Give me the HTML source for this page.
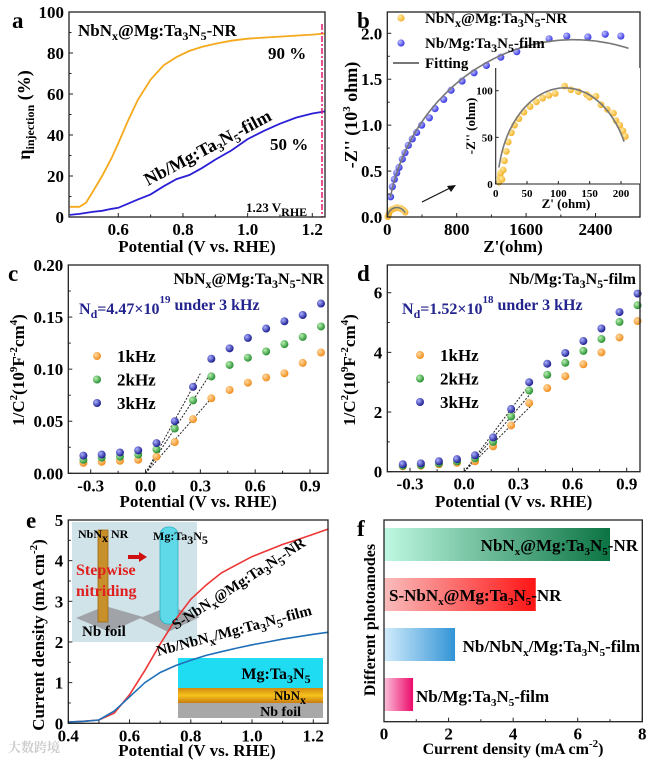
<!DOCTYPE html>
<html><head><meta charset="utf-8"><style>
html,body{margin:0;padding:0;background:#fff;}
svg{display:block;font-family:"Liberation Serif","Noto Serif CJK SC",serif;font-weight:bold;}
</style></head><body>
<svg id="fig" width="655" height="769" viewBox="0 0 655 769" xmlns="http://www.w3.org/2000/svg">
<defs>
<linearGradient id="g1" x1="0" x2="1"><stop offset="0" stop-color="#bff8e2"/><stop offset="1" stop-color="#0b7443"/></linearGradient>
<linearGradient id="g2" x1="0" x2="1"><stop offset="0" stop-color="#f9bcbc"/><stop offset="1" stop-color="#ff1414"/></linearGradient>
<linearGradient id="g3" x1="0" x2="1"><stop offset="0" stop-color="#d2ecfc"/><stop offset="1" stop-color="#3394d6"/></linearGradient>
<linearGradient id="g4" x1="0" x2="1"><stop offset="0" stop-color="#fbc0da"/><stop offset="1" stop-color="#ec0a6a"/></linearGradient>
<linearGradient id="gnb" x1="0" x2="0" y1="0" y2="1"><stop offset="0" stop-color="#d08a10"/><stop offset="0.5" stop-color="#f6c21c"/><stop offset="1" stop-color="#c87c10"/></linearGradient>
<radialGradient id="dotO" cx="0.35" cy="0.35" r="0.7"><stop offset="0" stop-color="#ffd9a0"/><stop offset="1" stop-color="#f08a18"/></radialGradient>
<radialGradient id="dotG" cx="0.35" cy="0.35" r="0.7"><stop offset="0" stop-color="#b8f0b0"/><stop offset="1" stop-color="#1f8a2a"/></radialGradient>
<radialGradient id="dotB" cx="0.35" cy="0.35" r="0.7"><stop offset="0" stop-color="#aab0ff"/><stop offset="1" stop-color="#14148a"/></radialGradient>
<radialGradient id="dotY" cx="0.35" cy="0.35" r="0.7"><stop offset="0" stop-color="#ffe9a0"/><stop offset="1" stop-color="#f2b024"/></radialGradient>
<radialGradient id="dotP" cx="0.35" cy="0.35" r="0.7"><stop offset="0" stop-color="#c0c0ff"/><stop offset="1" stop-color="#3030e0"/></radialGradient>
</defs>
</svg>
<script>
// ===== Panel a data =====
const aX = [0.45,0.48,0.5,0.52,0.55,0.58,0.6,0.63,0.66,0.7,0.74,0.78,0.82,0.86,0.9,0.95,1.0,1.05,1.1,1.15,1.2,1.24];
const aNR = [5,5,7,12,20,29,36,47,57,67,74,78,81,83,84.5,86,87,87.5,88,88.5,89,89.5];
const aFilm = [1,1.5,2,2.5,3,4,4.5,6.5,8.5,11,15,18.5,20.5,24,28,32.5,38,42,45.5,48.5,50.5,51.5];
const aXTicks = [0.6,0.8,1.0,1.2];
const aYTicks = [0,20,40,60,80,100];
// ===== Panel b data =====
const bFilmX = [38,58,81,108,135,173,204,242,288,338,396,485,550,650,735,862,1000,1142,1308,1492,1865,2069,2312,2512,2692];
const bFilmY = [0.22,0.33,0.41,0.48,0.54,0.63,0.70,0.78,0.85,0.92,1.0,1.08,1.18,1.28,1.38,1.48,1.57,1.65,1.74,1.80,1.94,1.97,1.96,1.99,1.97];
const bNRX = [5,7,8,10,12,14,17,20,25,30,37,45,55,65,75,85,95,110,120,132,145,150,160,168,178,188,192,198,203,207];
const bNRY = [2,8,12,5,15,25,35,45,55,63,70,77,83,88,92,95,97,105,101,99,96,93,94,85,80,76,68,63,57,51];
const bFitFilm = [2150,-232.5,2162.5,2780]; // circle cx, cy, r, end x (ohm)
const bFitNR = [110,-4.08,107.1,205];
const bXTicks = [0,800,1600,2400];
const bYTicks = [0,0.5,1.0,1.5,2.0];
const bInXTicks = [0,50,100,150,200];
const bInYTicks = [0,50,100];
// ===== Panel c/d data =====
const cvX = [-0.34,-0.24,-0.14,-0.04,0.06,0.16,0.26,0.36,0.46,0.56,0.66,0.76,0.86,0.96];
const c1k = [0.010,0.011,0.012,0.013,0.016,0.030,0.052,0.072,0.080,0.087,0.092,0.096,0.106,0.116];
const c2k = [0.013,0.015,0.016,0.018,0.023,0.043,0.070,0.093,0.104,0.111,0.117,0.124,0.131,0.141];
const c3k = [0.017,0.018,0.020,0.022,0.029,0.050,0.083,0.110,0.120,0.130,0.139,0.146,0.152,0.163];
const d1k = [0.18,0.20,0.25,0.30,0.35,0.85,1.55,2.3,2.8,3.2,3.6,4.0,4.5,5.05];
const d2k = [0.20,0.22,0.28,0.35,0.45,1.0,1.85,2.72,3.25,3.65,4.05,4.45,5.02,5.58];
const d3k = [0.25,0.28,0.35,0.42,0.55,1.15,2.1,3.0,3.62,3.98,4.38,4.8,5.35,5.97];
const cvXTicks = [-0.3,0.0,0.3,0.6,0.9];
const cYTicks = [0,0.05,0.10,0.15,0.20];
const dYTicks = [0,2,4,6];
// ===== Panel e data =====
const eX = [0.4,0.45,0.5,0.55,0.6,0.65,0.7,0.75,0.8,0.85,0.9,0.95,1.0,1.05,1.1,1.15,1.2,1.25];
const eNR = [0.03,0.05,0.08,0.25,0.7,1.3,1.95,2.55,3.05,3.4,3.7,3.9,4.1,4.25,4.4,4.52,4.65,4.78];
const eFilm = [0.03,0.05,0.08,0.3,0.65,1.0,1.25,1.42,1.55,1.67,1.76,1.85,1.93,2.0,2.07,2.13,2.19,2.24];
const eXTicks = [0.4,0.6,0.8,1.0,1.2];
const eYTicks = [0,1,2,3,4,5];
// ===== Panel f data =====
const fCats = ['NbN<tspan font-size="11" dy="4">x</tspan><tspan dy="-4">@Mg:Ta</tspan><tspan font-size="11" dy="4">3</tspan><tspan dy="-4">N</tspan><tspan font-size="11" dy="4">5</tspan><tspan dy="-4">-NR</tspan>',
 'S-NbN<tspan font-size="11" dy="4">x</tspan><tspan dy="-4">@Mg:Ta</tspan><tspan font-size="11" dy="4">3</tspan><tspan dy="-4">N</tspan><tspan font-size="11" dy="4">5</tspan><tspan dy="-4">-NR</tspan>',
 'Nb/NbN<tspan font-size="11" dy="4">x</tspan><tspan dy="-4">/Mg:Ta</tspan><tspan font-size="11" dy="4">3</tspan><tspan dy="-4">N</tspan><tspan font-size="11" dy="4">5</tspan><tspan dy="-4">-film</tspan>',
 'Nb/Mg:Ta<tspan font-size="11" dy="4">3</tspan><tspan dy="-4">N</tspan><tspan font-size="11" dy="4">5</tspan><tspan dy="-4">-film</tspan>'];
const fVals = [7.0,4.7,2.2,0.9];
const fXTicks = [0,2,4,6,8];

const svg = document.getElementById('fig');
const NS = 'http://www.w3.org/2000/svg';
function el(tag, attrs, name, parent) {
  const e = document.createElementNS(NS, tag);
  for (const k in attrs) e.setAttribute(k, attrs[k]);
  
  
  (parent || svg).appendChild(e);
  return e;
}
function txt(x, y, html, size, name, opts) {
  opts = opts || {};
  const a = {x: x, y: y, 'font-size': size, fill: opts.fill || '#000'};
  if (opts.anchor) a['text-anchor'] = opts.anchor;
  if (opts.rot !== undefined) a.transform = 'rotate(' + opts.rot + ' ' + x + ' ' + y + ')';
  const t = el('text', a, name);
  t.innerHTML = html;
  return t;
}
function lin(d0, d1, p0, p1) { return v => p0 + (v - d0) / (d1 - d0) * (p1 - p0); }
function frame(L, T, R, B, name) {
  el('rect', {x: L, y: T, width: R - L, height: B - T, fill: 'none', stroke: '#222', 'stroke-width': 1.3}, name);
}
function xTicks(ticks, sx, B, fmt, name, size, minor) {
  ticks.forEach((v, i) => {
    el('line', {x1: sx(v), x2: sx(v), y1: B, y2: B - 4, stroke: '#222', 'stroke-width': 1}, name + '-tick');
    txt(sx(v), B + 18, fmt(v), size || 17, name + '-label', {anchor: 'middle'});
    if (minor && i < ticks.length - 1) {
      const m = (v + ticks[i + 1]) / 2;
      el('line', {x1: sx(m), x2: sx(m), y1: B, y2: B - 2.5, stroke: '#222', 'stroke-width': 1}, name + '-minor-tick');
    }
  });
}
function yTicks(ticks, sy, L, fmt, name, size) {
  ticks.forEach((v, i) => {
    el('line', {x1: L, x2: L + 4, y1: sy(v), y2: sy(v), stroke: '#222', 'stroke-width': 1}, name + '-tick');
    txt(L - 5, sy(v) + 6, fmt(v), size || 17, name + '-label', {anchor: 'end'});
    if (i < ticks.length - 1) {
      const m = (v + ticks[i + 1]) / 2;
      el('line', {x1: L, x2: L + 2.5, y1: sy(m), y2: sy(m), stroke: '#222', 'stroke-width': 1}, name + '-minor-tick');
    }
  });
}
function path(xs, ys, sx, sy, color, w, name) {
  const d = xs.map((x, i) => (i ? 'L' : 'M') + sx(x).toFixed(1) + ',' + sy(ys[i]).toFixed(1)).join('');
  el('path', {d: d, fill: 'none', stroke: color, 'stroke-width': w}, name);
}
function sub(s) { return '<tspan font-size="12" dy="4">' + s + '</tspan><tspan dy="-4">'; }
const TAN = 'Ta' + sub('3') + 'N' + sub('5');

// ===================== Panel a =====================
(function(){
  const L=69,T=12,R=325,B=217;
  const sx = lin(0.6,1.2,118.3,312.3), sy = lin(0,100,B,T);
  txt(12,28,'a',23,'panel-label-a');
  path(aX,aNR,sx,sy,'#f5a91c',1.8,'curve-a-nr');
  path(aX,aFilm,sx,sy,'#2a1fd6',1.8,'curve-a-film');
  el('line',{x1:sx(1.23),x2:sx(1.23),y1:T+12,y2:B,stroke:'#e8237a','stroke-width':1.6,'stroke-dasharray':'6,2,2,2'},'vline-1-23v');
  frame(L,T,R,B,'frame-a');
  xTicks(aXTicks,sx,B,v=>v.toFixed(1),'x-tick-a',17,true);
  yTicks(aYTicks,sy,L,v=>v,'y-tick-a',17);
  txt(197,252,'Potential (V vs. RHE)',17,'x-axis-title-a',{anchor:'middle'});
  txt(30,115,'η<tspan font-size="12" dy="4">injection</tspan><tspan dy="-4"> (%)</tspan>',18,'y-axis-title-a',{anchor:'middle',rot:-90});
  txt(78,36,'NbN'+sub('x')+'@Mg:'+TAN+'-NR</tspan>',17,'label-a-nr');
  txt(268,59,'90 %',17,'label-90pct');
  txt(270,150,'50 %',17,'label-50pct');
  txt(148,186,'Nb/Mg:'+TAN+'-film</tspan>',18,'label-a-film',{rot:-28});
  txt(246,212,'1.23 V'+sub('RHE')+'</tspan>',13,'label-1-23v');
})();

// ===================== Panel b =====================
(function(){
  const L=387.3,T=12,R=640,B=217;
  const sx = lin(0,800,387.3,456.7), sy = lin(0,2.0,B,33.3);
  txt(357,28,'b',23,'panel-label-b');
  function arc(p, sxF, syF, scale, name){
    const xs=[], ys=[];
    for(let x=0;x<=p[3];x+=p[3]/80){ const dx=x-p[0]; const y=p[1]+Math.sqrt(Math.max(0,p[2]*p[2]-dx*dx)); if(y>=0){xs.push(x);ys.push(y/scale);} }
    path(xs,ys,sxF,syF,'#777',1.6,name);
  }
  bFilmX.forEach((x,i)=>{ el('circle',{cx:sx(x),cy:sy(bFilmY[i]),r:3.6,fill:'url(#dotP)'},'point-b-film'); });
  bNRX.forEach((x,i)=>{ el('circle',{cx:sx(x),cy:sy(bNRY[i]/1000),r:3.2,fill:'url(#dotY)'},'point-b-nr'); });
  arc(bFitFilm,sx,sy,1000,'fit-b-film');
  arc(bFitNR,sx,sy,1000,'fit-b-nr');
  frame(L,T,R,B,'frame-b');
  xTicks(bXTicks,sx,B,v=>v,'x-tick-b',17,true);
  yTicks(bYTicks,sy,L,v=>v.toFixed(1),'y-tick-b',17);
  txt(513,252,"Z'(ohm)",17,'x-axis-title-b',{anchor:'middle'});
  txt(357,115,"-Z'' (10<tspan font-size='11' dy='-7'>3</tspan><tspan dy='7'> ohm)</tspan>",18,'y-axis-title-b',{anchor:'middle',rot:-90});
  el('circle',{cx:401,cy:18,r:3.6,fill:'url(#dotY)'},'legend-marker-nr');
  txt(425,23,'NbN'+sub('x')+'@Mg:'+TAN+'-NR</tspan>',15,'legend-entry-nr');
  el('circle',{cx:401,cy:43,r:3.6,fill:'url(#dotP)'},'legend-marker-film');
  txt(425,48,'Nb/Mg:'+TAN+'-film</tspan>',15,'legend-entry-film');
  el('line',{x1:393,x2:419,y1:63,y2:63,stroke:'#777','stroke-width':2},'legend-marker-fit');
  txt(425,68,'Fitting',15,'legend-entry-fit');
  el('line',{x1:422,y1:202,x2:452,y2:187,stroke:'#111','stroke-width':1.2},'zoom-arrow');
  el('path',{d:'M456,185 L447,186 L451,192 Z',fill:'#111'},'zoom-arrowhead');
  const iL=495.7,iT=68,iR=640,iB=184;
  const ix = lin(0,200,495.7,621), iy = lin(0,100,iB,90.7);
  el('rect',{x:iL,y:iT,width:iR-iL,height:iB-iT,fill:'#fff',stroke:'none'},'inset-bg');
  bNRX.forEach((x,i)=>{ el('circle',{cx:ix(x),cy:iy(bNRY[i]),r:3.4,fill:'url(#dotY)'},'point-inset-nr'); });
  arc(bFitNR,ix,iy,1,'fit-inset-nr');
  el('path',{d:'M'+iL+','+iT+' L'+iL+','+iB+' L'+iR+','+iB,fill:'none',stroke:'#222','stroke-width':1.1},'inset-axes');
  bInXTicks.forEach(v=>{ el('line',{x1:ix(v),x2:ix(v),y1:iB,y2:iB-3,stroke:'#222'},'inset-x-tick'); txt(ix(v),iB+13,v,11,'inset-x-tick-label',{anchor:'middle'}); });
  bInYTicks.forEach(v=>{ el('line',{x1:iL,x2:iL+3,y1:iy(v),y2:iy(v),stroke:'#222'},'inset-y-tick'); txt(iL-3,iy(v)+4,v,11,'inset-y-tick-label',{anchor:'end'}); });
  txt(566,208,"Z' (ohm)",13,'inset-x-title',{anchor:'middle'});
  txt(475,126,"-Z'' (ohm)",13,'inset-y-title',{anchor:'middle',rot:-90});
})();

// ===================== Panels c & d =====================
function cvPanel(o){
  const sx = lin(-0.3,0.9,o.x03,o.x09), sy = lin(o.y0v,o.y1v,o.B,o.y1p);
  txt(o.lx,o.ly,o.label,23,'panel-label-'+o.id);
  const series=[[o.s1,'url(#dotO)','1k'],[o.s2,'url(#dotG)','2k'],[o.s3,'url(#dotB)','3k']];
  series.forEach((s,k)=>{
    const ys=s[0]; const x0=0.0; const slope=ys[6]/(cvX[6]-x0);
    const xe=o.fitEnd[k];
    el('line',{x1:sx(x0),y1:sy(0),x2:sx(xe),y2:sy(slope*(xe-x0)),stroke:'#222','stroke-width':1,'stroke-dasharray':'2,1.5'},'fit-line-'+o.id+'-'+s[2]);
  });
  series.forEach(s=>{ cvX.forEach((x,i)=>{ el('circle',{cx:sx(x),cy:sy(s[0][i]),r:4,fill:s[1]},'point-'+o.id+'-'+s[2]); }); });
  frame(o.L,o.T,o.R,o.B,'frame-'+o.id);
  xTicks(cvXTicks,sx,o.B,v=>v.toFixed(1),'x-tick-'+o.id,17,true);
  yTicks(o.yt,sy,o.L,o.fmt,'y-tick-'+o.id,17);
  txt((o.L+o.R)/2,507,'Potential (V vs. RHE)',17,'x-axis-title-'+o.id,{anchor:'middle'});
  txt(o.ytx,370,'1/C<tspan font-size="11" dy="-7">2</tspan><tspan dy="7">(10</tspan><tspan font-size="11" dy="-7">9</tspan><tspan dy="7">F</tspan><tspan font-size="11" dy="-7">-2</tspan><tspan dy="7">cm</tspan><tspan font-size="11" dy="-7">4</tspan><tspan dy="7">)</tspan>',17,'y-axis-title-'+o.id,{anchor:'middle',rot:-90});
  [['url(#dotO)','1kHz'],['url(#dotG)','2kHz'],['url(#dotB)','3kHz']].forEach((l,i)=>{
    el('circle',{cx:o.legX,cy:o.legY+i*23.5,r:4,fill:l[0]},'legend-marker-'+o.id+'-'+l[1]);
    txt(o.legX+20,o.legY+i*23.5+6,l[1],17,'legend-entry-'+o.id+'-'+l[1]);
  });
  txt(o.R-4,o.T+19,o.title,16,'sample-label-'+o.id,{anchor:'end'});
  txt(o.ndX,o.T+49,o.nd,16,'nd-label-'+o.id,{fill:'#24248f'});
}
cvPanel({id:'c',label:'c',lx:8,ly:281,L:68.3,T:265,R:328,B:473.3,x03:90.7,x09:310,y0v:0,y1v:0.2,y1p:265,
  s1:c1k,s2:c2k,s3:c3k,fitEnd:[0.36,0.36,0.3],yt:cYTicks,fmt:v=>v.toFixed(2),ytx:24,legX:97,legY:356,
  title:'NbN'+sub('x')+'@Mg:'+TAN+'-NR</tspan>',ndX:79,nd:'N'+sub('d')+'=4.47×10<tspan font-size="11" dy="-11">19</tspan><tspan dy="7"> under 3 kHz</tspan></tspan>'});
cvPanel({id:'d',label:'d',lx:357,ly:281,L:387.3,T:265,R:640,B:471.7,x03:410,x09:626.7,y0v:0,y1v:6,y1p:292.7,
  s1:d1k,s2:d2k,s3:d3k,fitEnd:[0.37,0.37,0.35],yt:dYTicks,fmt:v=>v,ytx:355,legX:420,legY:355,
  title:'Nb/Mg:'+TAN+'-film</tspan>',ndX:402,nd:'N'+sub('d')+'=1.52×10<tspan font-size="11" dy="-11">18</tspan><tspan dy="7"> under 3 kHz</tspan></tspan>'});

// ===================== Panel e =====================
(function(){
  const L=68.3,T=520,R=328,B=723.3;
  const sx = lin(0.4,1.2,68.3,313.3), sy = lin(0,5,B,T);
  txt(26,528,'e',23,'panel-label-e');
  el('rect',{x:72,y:522,width:125,height:120,fill:'#cfe3e8'},'inset-nitriding-bg');
  el('path',{d:'M76,618 L105,606 L143,617 L110,632 Z',fill:'#a0a4a8'},'nb-foil-left');
  el('rect',{x:98,y:530,width:10,height:92,fill:'#c8902a',stroke:'#9a6a18','stroke-width':0.8},'nbnx-rod');
  el('path',{d:'M140,618 L170,606 L200,617 L168,632 Z',fill:'#a0a4a8'},'nb-foil-right');
  el('rect',{x:160,y:527,width:18,height:97,rx:8,fill:'#5fd8e8',stroke:'#2ab0c4','stroke-width':0.8},'mg-ta3n5-rod');
  el('path',{d:'M128,557 L140,557',stroke:'#d01010','stroke-width':4},'nitriding-arrow');
  el('path',{d:'M139,552 L147,557 L139,562 Z',fill:'#d01010'},'nitriding-arrowhead');
  txt(78,538,'NbN'+sub('x')+' NR</tspan>',12,'label-nbnx-nr');
  txt(153,540,'Mg:'+TAN+'</tspan>',12,'label-mg-ta3n5-rod');
  txt(76,575,'Stepwise',16,'label-stepwise',{fill:'#e02020'});
  txt(76,596,'nitriding',16,'label-nitriding',{fill:'#e02020'});
  txt(82,636,'Nb foil',15,'label-nb-foil-inset');
  el('rect',{x:178,y:658,width:145,height:30,fill:'#20dcf2'},'layer-mg-ta3n5');
  el('rect',{x:178,y:688,width:145,height:15,fill:'url(#gnb)'},'layer-nbnx');
  el('rect',{x:178,y:703,width:145,height:15,fill:'#a8a8a8'},'layer-nb-foil');
  txt(276,679,'Mg:'+TAN+'</tspan>',16,'label-layer-mg-ta3n5',{anchor:'middle'});
  txt(306,700,'NbN'+sub('x')+'</tspan>',13,'label-layer-nbnx',{anchor:'end'});
  txt(301,716,'Nb foil',14,'label-layer-nb-foil',{anchor:'end'});
  path(eX,eNR,sx,sy,'#ee3535',1.6,'curve-e-nr');
  path(eX,eFilm,sx,sy,'#1f6fb8',1.6,'curve-e-film');
  frame(L,T,R,B,'frame-e');
  xTicks(eXTicks,sx,B,v=>v.toFixed(1),'x-tick-e',17,true);
  yTicks(eYTicks,sy,L,v=>v,'y-tick-e',17);
  txt(197,756,'Potential (V vs. RHE)',17,'x-axis-title-e',{anchor:'middle'});
  txt(44,635,'Current density (mA cm<tspan font-size="11" dy="-7">-2</tspan><tspan dy="7">)</tspan>',17,'y-axis-title-e',{anchor:'middle',rot:-90});
  txt(176,630,'S-NbN'+sub('x')+'@Mg:'+TAN+'-NR</tspan>',15,'label-e-nr',{rot:-33});
  txt(158,656,'Nb/NbN'+sub('x')+'/Mg:'+TAN+'-film</tspan>',15,'label-e-film',{rot:-15});
  txt(8,752,'大数跨境',13,'watermark',{fill:'#cccccc'});
})();

// ===================== Panel f =====================
(function(){
  const L=384,T=520,R=642.3,B=721.7;
  const sx = lin(0,8,384,642.3);
  const bandTop = [528,578,628,678];
  const fills=['url(#g1)','url(#g2)','url(#g3)','url(#g4)'];
  txt(357,536,'f',23,'panel-label-f');
  fVals.forEach((v,i)=>{
    el('rect',{x:sx(0),y:bandTop[i],width:sx(v)-sx(0),height:33,fill:fills[i]},'bar-'+(i+1));
  });
  txt(638,551,fCats[0],17,'bar-label-1',{anchor:'end'});
  txt(389,601,fCats[1],17,'bar-label-2');
  txt(640,652,fCats[2],17,'bar-label-3',{anchor:'end'});
  txt(416,702,fCats[3],17,'bar-label-4');
  frame(L,T,R,B,'frame-f');
  xTicks(fXTicks,sx,B,v=>v,'x-tick-f',17,true);
  txt(513,754,'Current density (mA cm<tspan font-size="11" dy="-7">-2</tspan><tspan dy="7">)</tspan>',16,'x-axis-title-f',{anchor:'middle'});
  txt(375,620,'Different photoanodes',16,'y-axis-title-f',{anchor:'middle',rot:-90});
})();
</script>
</body></html>
